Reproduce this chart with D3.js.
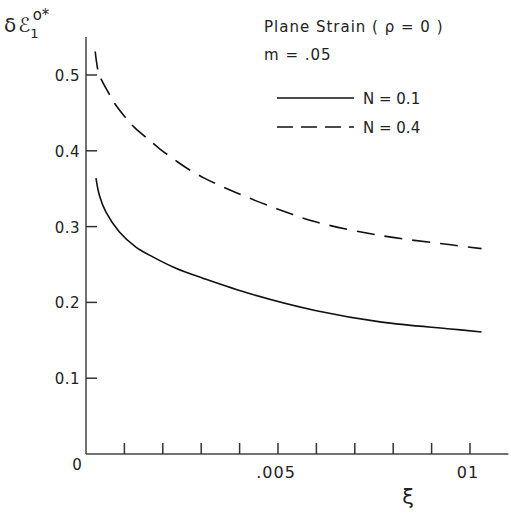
<!DOCTYPE html>
<html>
<head>
<meta charset="utf-8">
<script src="https://cdn.jsdelivr.net/npm/d3@7"></script>
<style>
  body { margin: 0; background: #fff; }
  text { font-family: "DejaVu Sans", sans-serif; fill: #222; }
</style>
</head>
<body>
<div id="chart"></div>
<script>
// values
var xiSolid = [0.00026, 0.00035, 0.00052, 0.00087, 0.0013, 0.00174, 0.00234, 0.00304, 0.0043, 0.0060, 0.0077, 0.0095, 0.0103];
var n01 = [0.364, 0.341, 0.319, 0.293, 0.273, 0.260, 0.245, 0.232, 0.211, 0.189, 0.174, 0.165, 0.161];
var xiDash = [0.00024, 0.00033, 0.00043, 0.00065, 0.00078, 0.00109, 0.00126, 0.00165, 0.00191, 0.00234, 0.0026, 0.00308, 0.0039, 0.0050, 0.0060, 0.0077, 0.0095, 0.0103];
var n04 = [0.531, 0.502, 0.491, 0.471, 0.460, 0.440, 0.431, 0.414, 0.403, 0.387, 0.378, 0.364, 0.345, 0.323, 0.306, 0.288, 0.276, 0.271];
var yTicks = [0.1, 0.2, 0.3, 0.4, 0.5];
var yTickLabels = ["0.1", "0.2", "0.3", "0.4", "0.5"];
var xTicks = [0.001, 0.002, 0.003, 0.004, 0.005, 0.006, 0.007, 0.008, 0.009, 0.01];
var xLabels = [[0.005, ".005"], [0.01, "01"]];

var width = 511, height = 515;
var svg = d3.select("#chart").append("svg")
    .attr("width", width).attr("height", height);

var x = d3.scaleLinear().domain([0, 0.01]).range([86, 470]);
var y = d3.scaleLinear().domain([0, 0.5]).range([454, 75]);

// axes
svg.append("line")
    .attr("x1", x(0)).attr("x2", x(0.0110))
    .attr("y1", y(0)).attr("y2", y(0))
    .attr("stroke", "#444").attr("stroke-width", 1.5);
svg.append("line")
    .attr("x1", x(0)).attr("x2", x(0))
    .attr("y1", y(0)).attr("y2", y(0.55))
    .attr("stroke", "#444").attr("stroke-width", 1.5);

svg.selectAll(".ytick").data(yTicks).enter().append("line")
    .attr("class", "ytick")
    .attr("x1", x(0)).attr("x2", x(0) + 11)
    .attr("y1", function(d) { return y(d); })
    .attr("y2", function(d) { return y(d); })
    .attr("stroke", "#333").attr("stroke-width", 1.5);

svg.selectAll(".ylab").data(yTicks).enter().append("text")
    .attr("class", "ylab")
    .attr("x", x(0) - 6)
    .attr("y", function(d) { return y(d) + 6; })
    .attr("text-anchor", "end")
    .style("font-size", "15px")
    .style("letter-spacing", "0.5px")
    .text(function(d, i) { return yTickLabels[i]; });

svg.selectAll(".xtick").data(xTicks).enter().append("line")
    .attr("class", "xtick")
    .attr("x1", function(d) { return x(d); })
    .attr("x2", function(d) { return x(d); })
    .attr("y1", y(0)).attr("y2", y(0) - 11)
    .attr("stroke", "#333").attr("stroke-width", 1.5);

svg.selectAll(".xlab").data(xLabels).enter().append("text")
    .attr("class", "xlab")
    .attr("x", function(d) { return x(d[0]) - 2; })
    .attr("y", y(0) + 24)
    .attr("text-anchor", "middle")
    .style("font-size", "16px")
    .style("letter-spacing", "1px")
    .text(function(d) { return d[1]; });

svg.append("text")
    .attr("x", x(0) - 9).attr("y", y(0) + 16)
    .attr("text-anchor", "middle")
    .style("font-size", "15px")
    .text("0");

// axis titles
svg.append("text")
    .attr("x", 408).attr("y", 504)
    .attr("text-anchor", "middle")
    .style("font-size", "21px")
    .text("ξ");

var yt = svg.append("text").attr("x", 4).attr("y", 32).style("font-size", "20px");
yt.append("tspan").text("δ");
yt.append("tspan").attr("dx", 2).text("ℰ");
yt.append("tspan").attr("dy", 6).style("font-size", "13px").text("1");
yt.append("tspan").attr("dy", -18).attr("dx", -6).style("font-size", "15px").text("o*");

// curves
var line = d3.line()
    .x(function(d) { return x(d[0]); })
    .y(function(d) { return y(d[1]); })
    .curve(d3.curveCatmullRom.alpha(0.5));

svg.append("path")
    .datum(d3.zip(xiSolid, n01))
    .attr("d", line)
    .attr("fill", "none").attr("stroke", "#111").attr("stroke-width", 1.6);

svg.append("path")
    .datum(d3.zip(xiDash, n04))
    .attr("d", line)
    .attr("fill", "none").attr("stroke", "#111").attr("stroke-width", 1.6)
    .attr("stroke-dasharray", "18,10");

// legend
svg.append("text").attr("x", 264).attr("y", 32)
    .style("font-size", "15px").style("letter-spacing", "1px")
    .text("Plane Strain ( ρ = 0 )");
svg.append("text").attr("x", 264).attr("y", 60)
    .style("font-size", "15px").style("letter-spacing", "1px")
    .text("m = .05");

var legend = [["N = 0.1", null, 98], ["N = 0.4", "16,8", 127]];
legend.forEach(function(l) {
    svg.append("line")
        .attr("x1", 277).attr("x2", 354)
        .attr("y1", l[2]).attr("y2", l[2])
        .attr("stroke", "#111").attr("stroke-width", 1.6)
        .attr("stroke-dasharray", l[1]);
    svg.append("text").attr("x", 363).attr("y", l[2] + 6)
        .style("font-size", "15px").text(l[0]);
});
</script>
</body>
</html>
